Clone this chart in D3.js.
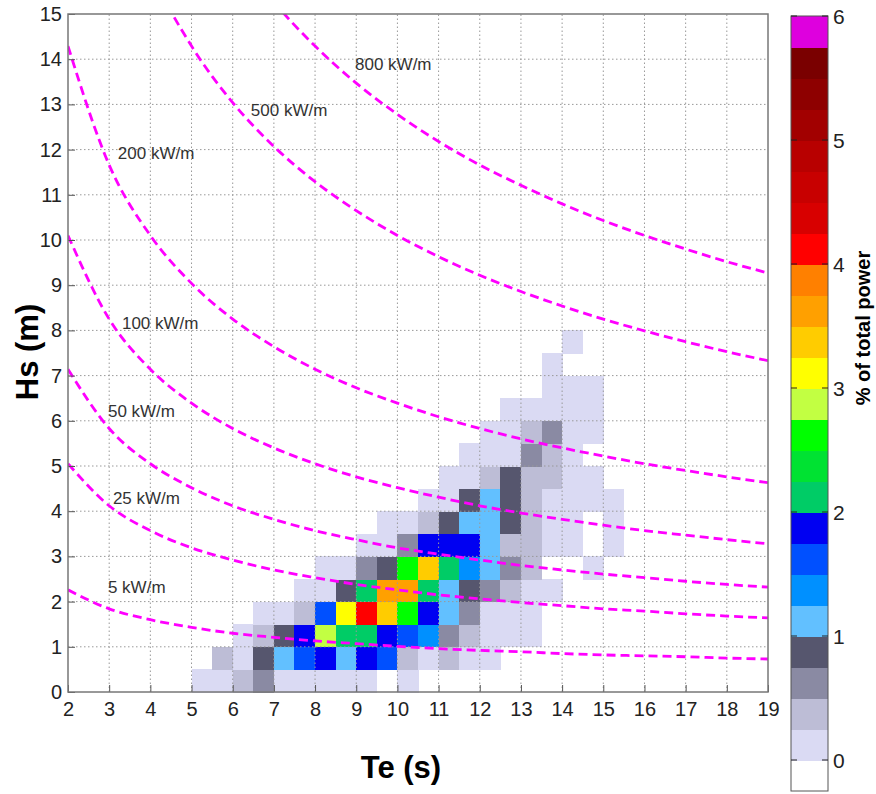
<!DOCTYPE html>
<html>
<head>
<meta charset="utf-8">
<script src="https://cdn.jsdelivr.net/npm/d3@7/dist/d3.min.js"></script>
<style>
    body { margin: 0; background: #fff; }
    svg text { font-family: "Liberation Sans", Arial, sans-serif; }
</style>
</head>
<body>
<svg id="chart" width="876" height="794"></svg>
<script>
// Bin starts of the scatter table (0.5 s x 0.5 m cells)
var teBins = [5, 5.5, 6, 6.5, 7, 7.5, 8, 8.5, 9, 9.5, 10, 10.5, 11, 11.5, 12, 12.5, 13, 13.5, 14, 14.5, 15];
var hsBins = [0, 0.5, 1, 1.5, 2, 2.5, 3, 3.5, 4, 4.5, 5, 5.5, 6, 6.5, 7, 7.5];

// % of total power, one row per Hs bin, one value per Te bin (0 = no data)
var powerRows = [
    [.1, .1, .4, .6, .1, .1, .1, .1, .1, 0, .1, 0, 0, 0, 0, 0, 0, 0, 0, 0, 0],
    [0, .4, .1, .9, 1.1, 1.6, 1.9, 1.1, 1.9, 1.6, .4, .1, .4, .1, .1, 0, 0, 0, 0, 0, 0],
    [0, 0, .1, .4, .9, 1.9, 2.9, 2.1, 2.1, 1.9, 1.6, 1.4, .6, .4, .1, .1, .1, 0, 0, 0, 0],
    [0, 0, 0, .1, .1, .4, 1.6, 3.1, 4.1, 3.4, 2.6, 1.9, 1.1, .6, .1, .1, .1, 0, 0, 0, 0],
    [0, 0, 0, 0, 0, .1, .1, .9, 2.1, 3.6, 3.6, 2.1, 1.1, .9, .6, .4, .1, .1, 0, 0, 0],
    [0, 0, 0, 0, 0, 0, .1, .1, .6, .9, 2.6, 3.4, 2.1, 1.4, 1.1, .6, .4, 0, 0, .1, 0],
    [0, 0, 0, 0, 0, 0, 0, 0, .1, .1, .6, 1.9, 1.9, 1.9, 1.1, .4, .4, .1, .1, 0, .1],
    [0, 0, 0, 0, 0, 0, 0, 0, 0, .1, .1, .4, .9, 1.1, 1.1, .9, .4, .1, .1, 0, .1],
    [0, 0, 0, 0, 0, 0, 0, 0, 0, 0, 0, .1, .1, .9, 1.1, .9, .4, .1, .1, .1, .1],
    [0, 0, 0, 0, 0, 0, 0, 0, 0, 0, 0, 0, .1, .1, .4, .9, .4, .4, .1, .1, 0],
    [0, 0, 0, 0, 0, 0, 0, 0, 0, 0, 0, 0, 0, .1, .1, .1, .6, .4, .1, 0, 0],
    [0, 0, 0, 0, 0, 0, 0, 0, 0, 0, 0, 0, 0, 0, .1, .1, .4, .6, .1, .1, 0],
    [0, 0, 0, 0, 0, 0, 0, 0, 0, 0, 0, 0, 0, 0, 0, .1, .1, .1, .1, .1, 0],
    [0, 0, 0, 0, 0, 0, 0, 0, 0, 0, 0, 0, 0, 0, 0, 0, 0, .1, .1, .1, 0],
    [0, 0, 0, 0, 0, 0, 0, 0, 0, 0, 0, 0, 0, 0, 0, 0, 0, .1, 0, 0, 0],
    [0, 0, 0, 0, 0, 0, 0, 0, 0, 0, 0, 0, 0, 0, 0, 0, 0, 0, .1, 0, 0]
];

// Colour bar: steps of 0.25 %, first one (below 0) is white
var barSteps = [0, 0.25, 0.5, 0.75, 1, 1.25, 1.5, 1.75, 2, 2.25, 2.5, 2.75, 3, 3.25, 3.5, 3.75, 4, 4.25, 4.5, 4.75, 5, 5.25, 5.5, 5.75];
var barColors = ["#ffffff", "#dadaf3", "#bdbdd6", "#8a8aa3", "#56566e", "#62c0ff", "#0090ff", "#0050ff", "#0000f2",
    "#00cc66", "#00e232", "#00ff00", "#c2ff42", "#ffff00", "#ffcc00", "#ffa000", "#ff8000", "#ff0000",
    "#d80000", "#c80000", "#b80000", "#a20000", "#8e0000", "#7a0000", "#de00de"];
var barTicks = [0, 1, 2, 3, 4, 5, 6];

// Iso-power lines, Hs (m) read at each whole Te (s)
var contourTe = [2, 3, 4, 5, 6, 7, 8, 9, 10, 11, 12, 13, 14, 15, 16, 17, 18, 19];
var p5Hs = [2.26, 1.84, 1.60, 1.43, 1.30, 1.21, 1.13, 1.07, 1.01, 0.96, 0.92, 0.89, 0.85, 0.82, 0.80, 0.78, 0.75, 0.73];
var p25Hs = [5.05, 4.12, 3.57, 3.19, 2.92, 2.70, 2.53, 2.38, 2.26, 2.15, 2.06, 1.98, 1.91, 1.84, 1.79, 1.73, 1.68, 1.64];
var p50Hs = [7.14, 5.83, 5.05, 4.52, 4.12, 3.82, 3.57, 3.37, 3.19, 3.05, 2.92, 2.80, 2.70, 2.61, 2.53, 2.45, 2.38, 2.32];
var p100Hs = [10.10, 8.25, 7.14, 6.39, 5.83, 5.40, 5.05, 4.76, 4.52, 4.31, 4.12, 3.96, 3.82, 3.69, 3.57, 3.47, 3.37, 3.28];
var p200Hs = [14.29, 11.66, 10.10, 9.04, 8.25, 7.64, 7.14, 6.73, 6.39, 6.09, 5.83, 5.60, 5.40, 5.22, 5.05, 4.90, 4.76, 4.63];
var p500Hs = [22.59, 18.44, 15.97, 14.29, 13.04, 12.07, 11.29, 10.65, 10.10, 9.63, 9.22, 8.86, 8.54, 8.25, 7.99, 7.75, 7.53, 7.33];
var p800Hs = [28.57, 23.33, 20.20, 18.07, 16.50, 15.27, 14.29, 13.47, 12.78, 12.18, 11.66, 11.21, 10.80, 10.43, 10.10, 9.80, 9.52, 9.27];
var contourHs = [p5Hs, p25Hs, p50Hs, p100Hs, p200Hs, p500Hs, p800Hs];

var contourNames = ["5 kW/m", "25 kW/m", "50 kW/m", "100 kW/m", "200 kW/m", "500 kW/m", "800 kW/m"];
var labelTe = [2.97, 3.09, 2.97, 3.31, 3.21, 6.44, 8.97];
var labelHs = [2.19, 4.16, 6.08, 8.03, 11.79, 12.74, 13.76];

var xTicks = d3.range(2, 20);
var yTicks = d3.range(0, 16);

(function() {
    var svg = d3.select("#chart");

    var x = d3.scaleLinear().domain([2, 19]).range([68, 768]);
    var y = d3.scaleLinear().domain([0, 15]).range([692, 14]);
    var color = d3.scaleThreshold().domain(barSteps).range(barColors);

    // flatten the table into cells
    var cells = [];
    for (var i = 0; i < hsBins.length; i++) {
        for (var j = 0; j < teBins.length; j++) {
            if (powerRows[i][j] > 0) {
                cells.push({ te: teBins[j], hs: hsBins[i], v: powerRows[i][j] });
            }
        }
    }

    svg.append("defs").append("clipPath")
        .attr("id", "plotClip")
        .append("rect")
        .attr("x", 68).attr("y", 14)
        .attr("width", 700).attr("height", 678);

    svg.append("g")
        .selectAll("rect")
        .data(cells)
        .enter().append("rect")
        .attr("x", function(d) { return x(d.te); })
        .attr("y", function(d) { return y(d.hs + 0.5); })
        .attr("width", function(d) { return x(d.te + 0.5) - x(d.te) + 0.5; })
        .attr("height", function(d) { return y(d.hs) - y(d.hs + 0.5) + 0.5; })
        .attr("fill", function(d) { return color(d.v); })
        .attr("shape-rendering", "crispEdges");

    // dotted grid on top of the cells
    var grid = svg.append("g").attr("stroke", "#999").attr("stroke-width", 1)
        .attr("stroke-dasharray", "1.5,2.5");
    grid.selectAll("line.gx")
        .data(xTicks.slice(1, -1))
        .enter().append("line")
        .attr("x1", function(d) { return x(d); }).attr("x2", function(d) { return x(d); })
        .attr("y1", y(0)).attr("y2", y(15));
    grid.selectAll("line.gy")
        .data(yTicks.slice(1, -1))
        .enter().append("line")
        .attr("x1", x(2)).attr("x2", x(19))
        .attr("y1", function(d) { return y(d); }).attr("y2", function(d) { return y(d); });

    // iso-power lines
    var line = d3.line()
        .x(function(d) { return x(d[0]); })
        .y(function(d) { return y(d[1]); })
        .curve(d3.curveMonotoneX);

    svg.append("g")
        .attr("clip-path", "url(#plotClip)")
        .selectAll("path")
        .data(contourHs)
        .enter().append("path")
        .attr("d", function(hs) {
            return line(hs.map(function(h, k) { return [contourTe[k], h]; }));
        })
        .attr("fill", "none")
        .attr("stroke", "#ff00ff")
        .attr("stroke-width", 2.8)
        .attr("stroke-dasharray", "9,5");

    svg.append("g")
        .selectAll("text")
        .data(contourNames)
        .enter().append("text")
        .attr("x", function(d, k) { return x(labelTe[k]); })
        .attr("y", function(d, k) { return y(labelHs[k]); })
        .attr("font-size", 17)
        .attr("fill", "#333")
        .text(function(d) { return d; });

    // axes (ticks point inwards)
    var xAxis = svg.append("g")
        .attr("transform", "translate(0," + y(0) + ")")
        .call(d3.axisBottom(x).tickValues(xTicks).tickSizeInner(-7).tickSizeOuter(0).tickPadding(10));
    var yAxis = svg.append("g")
        .attr("transform", "translate(" + x(2) + ",0)")
        .call(d3.axisLeft(y).tickValues(yTicks).tickSizeInner(-7).tickSizeOuter(0).tickPadding(6));
    [xAxis, yAxis].forEach(function(a) {
        a.select(".domain").remove();
        a.selectAll("line").attr("stroke", "#555");
        a.selectAll("text").attr("font-size", 20).attr("fill", "#222")
            .style("font-family", "'Liberation Sans', Arial, sans-serif");
    });

    svg.append("rect")
        .attr("x", x(2)).attr("y", y(15))
        .attr("width", x(19) - x(2)).attr("height", y(0) - y(15))
        .attr("fill", "none").attr("stroke", "#777").attr("stroke-width", 1.5);

    svg.append("text")
        .attr("x", 401).attr("y", 778)
        .attr("text-anchor", "middle")
        .attr("font-size", 31).attr("font-weight", "bold")
        .text("Te (s)");
    svg.append("text")
        .attr("transform", "translate(38,352) rotate(-90)")
        .attr("text-anchor", "middle")
        .attr("font-size", 31).attr("font-weight", "bold")
        .text("Hs (m)");

    // colour bar
    var cy = d3.scaleLinear().domain([-0.25, 6]).range([791, 16]);
    var barLow = [-0.25].concat(barSteps);
    var bar = svg.append("g");
    bar.selectAll("rect")
        .data(barLow)
        .enter().append("rect")
        .attr("x", 791).attr("width", 37)
        .attr("y", function(d) { return cy(d + 0.25); })
        .attr("height", function(d) { return cy(d) - cy(d + 0.25) + 0.5; })
        .attr("fill", function(d, k) { return barColors[k]; })
        .attr("shape-rendering", "crispEdges");
    bar.append("rect")
        .attr("x", 791).attr("y", 16).attr("width", 37).attr("height", 775)
        .attr("fill", "none").attr("stroke", "#555").attr("stroke-width", 1);
    bar.selectAll("path.tk")
        .data(barTicks)
        .enter().append("path")
        .attr("d", function(d) {
            return "M791," + cy(d) + "h6M828," + cy(d) + "h-6";
        })
        .attr("stroke", "#222").attr("stroke-width", 1);
    bar.selectAll("text")
        .data(barTicks)
        .enter().append("text")
        .attr("x", 833)
        .attr("y", function(d) { return cy(d); })
        .attr("dy", "0.36em")
        .attr("font-size", 21).attr("fill", "#222")
        .text(function(d) { return d; });

    svg.append("text")
        .attr("transform", "translate(870,328) rotate(-90)")
        .attr("text-anchor", "middle")
        .attr("font-size", 20).attr("font-weight", "bold")
        .text("% of total power");
})();
</script>
</body>
</html>
